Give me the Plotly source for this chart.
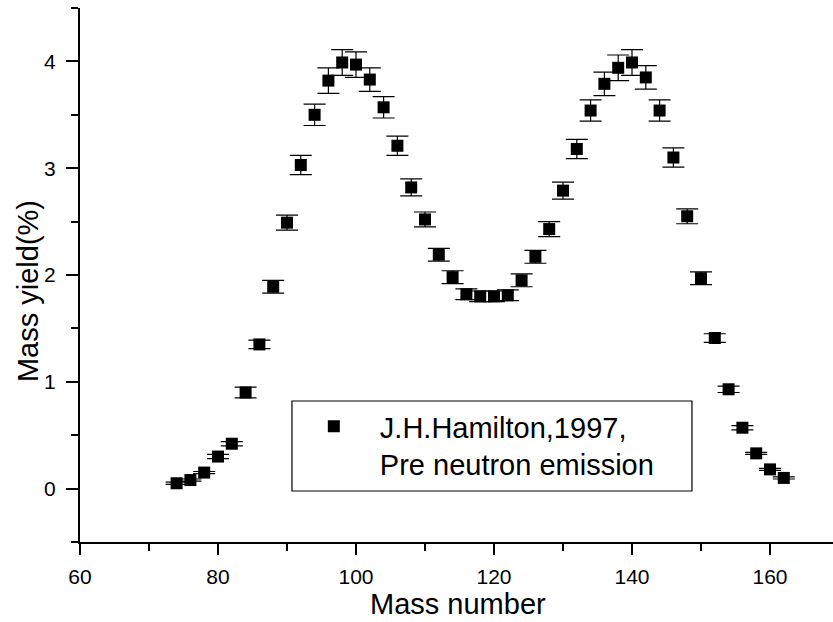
import plotly.graph_objects as go

mass_number = [74, 76, 78, 80, 82, 84, 86, 88, 90, 92, 94, 96, 98, 100,
               102, 104, 106, 108, 110, 112, 114, 116, 118, 120, 122, 124,
               126, 128, 130, 132, 134, 136, 138, 140, 142, 144, 146, 148,
               150, 152, 154, 156, 158, 160, 162]
mass_yield = [0.05, 0.08, 0.15, 0.30, 0.42, 0.90, 1.35, 1.89, 2.49, 3.03,
              3.50, 3.82, 3.99, 3.97, 3.83, 3.57, 3.21, 2.82, 2.52, 2.19,
              1.98, 1.82, 1.80, 1.80, 1.81, 1.95, 2.17, 2.43, 2.79, 3.18,
              3.54, 3.79, 3.94, 3.99, 3.85, 3.54, 3.10, 2.55, 1.97, 1.41,
              0.93, 0.57, 0.33, 0.18, 0.10]
yield_error = [0.01, 0.01, 0.01, 0.02, 0.02, 0.05, 0.04, 0.06, 0.07, 0.09,
               0.10, 0.12, 0.12, 0.12, 0.11, 0.10, 0.09, 0.08, 0.07, 0.06,
               0.06, 0.05, 0.05, 0.05, 0.05, 0.06, 0.06, 0.07, 0.08, 0.09,
               0.10, 0.11, 0.12, 0.12, 0.11, 0.10, 0.09, 0.07, 0.06, 0.04,
               0.03, 0.02, 0.01, 0.01, 0.01]
legend_label = "J.H.Hamilton,1997,<br>Pre neutron emission"
x_title = "Mass number"
y_title = "Mass yield(%)"

FONT = "Liberation Sans, Arial, sans-serif"

fig = go.Figure()
fig.add_trace(go.Scatter(
    x=mass_number, y=mass_yield, mode="markers", name=legend_label,
    marker=dict(symbol="square", size=12, color="black", line=dict(width=0)),
    error_y=dict(type="data", array=yield_error, visible=True,
                 color="black", thickness=1.2, width=11),
))

fig.update_layout(
    template="none",
    width=833, height=622,
    margin=dict(l=80, r=0, t=8, b=80, pad=0),
    paper_bgcolor="white", plot_bgcolor="white",
    font=dict(family=FONT, color="black"),
    showlegend=True,
    legend=dict(x=0.276, y=0.264, xanchor="left", yanchor="top",
                bgcolor="rgba(0,0,0,0)", borderwidth=0,
                font=dict(size=29, family=FONT), itemwidth=82,
                valign="top"),
    shapes=[dict(type="rect", xref="paper", yref="paper",
                 x0=0.2815, x1=0.8127, y0=0.0955, y1=0.264,
                 line=dict(color="black", width=1.2), fillcolor="rgba(0,0,0,0)")],
    annotations=[
        dict(text=y_title, textangle=-90, xref="paper", yref="paper",
             x=-0.069, y=0.47, xanchor="center", yanchor="middle",
             showarrow=False, font=dict(size=29, family=FONT)),
        dict(text=x_title, xref="paper", yref="paper",
             x=0.502, y=-0.117, xanchor="center", yanchor="middle",
             showarrow=False, font=dict(size=29, family=FONT)),
    ],
)
fig.update_xaxes(
    automargin=False,
    range=[60, 169.13], showline=True, linecolor="black", linewidth=2,
    showgrid=False, zeroline=False, ticks="outside", ticklen=11,
    tickwidth=1.6, tickcolor="black", dtick=20, tick0=60,
    tickfont=dict(size=21, family=FONT), ticklabelstandoff=4,
    minor=dict(dtick=10, ticks="outside", ticklen=7, tickwidth=1.6,
               tickcolor="black", showgrid=False),
)
fig.update_yaxes(
    automargin=False,
    range=[-0.5, 4.5], showline=True, linecolor="black", linewidth=2,
    showgrid=False, zeroline=False, ticks="outside", ticklen=12,
    tickwidth=1.6, tickcolor="black", dtick=1, tick0=0,
    tickfont=dict(size=21, family=FONT), ticklabelstandoff=6,
    minor=dict(dtick=0.5, ticks="outside", ticklen=7, tickwidth=1.6,
               tickcolor="black", showgrid=False),
)

fig.write_html("out.html", config={"displayModeBar": False},
               post_script="document.body.style.margin='0';document.body.style.overflow='hidden';")
